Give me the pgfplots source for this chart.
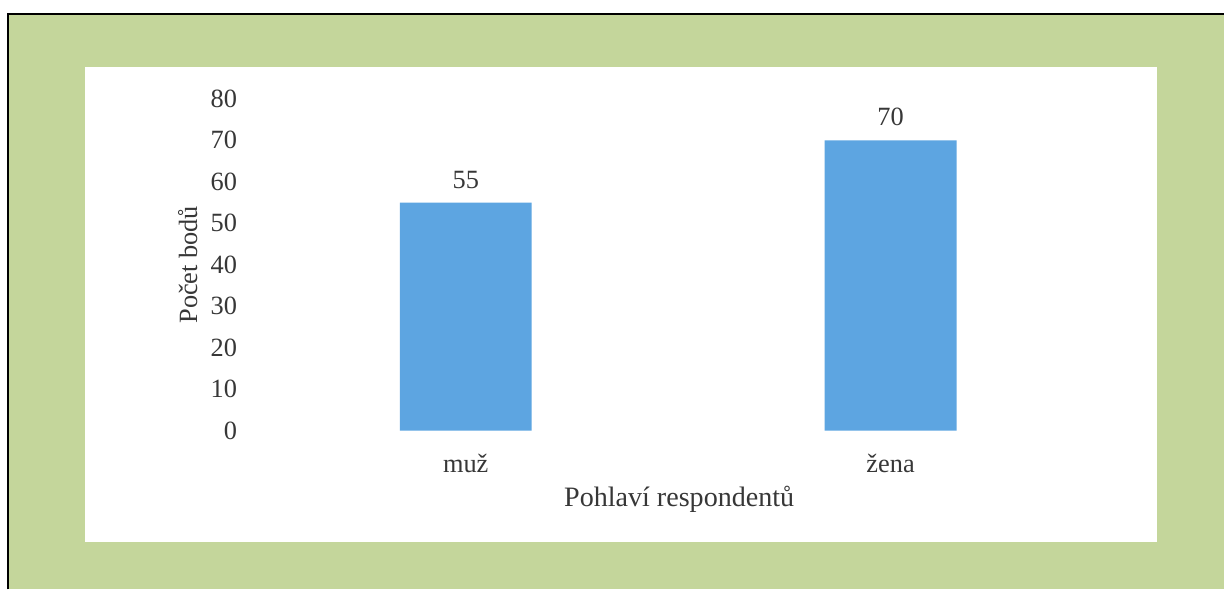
\documentclass[border=0pt]{standalone}
\usepackage{pgfplots}
\pgfplotsset{compat=1.18}
\usepackage{fontspec}
\setmainfont{Liberation Serif}
\definecolor{bggreen}{RGB}{196,214,155}
\definecolor{barblue}{RGB}{93,165,225}
\definecolor{txt}{RGB}{55,55,55}
\begin{document}
\begin{tikzpicture}
% frame: page is 12.25cm x 5.9cm (1px = 0.01cm)
\fill[white] (0,0) rectangle (12.25,5.9);
\fill[bggreen] (0.08,0) rectangle (12.25,5.76);
\draw[black, line width=0.8pt] (0.08,0) -- (0.08,5.76) -- (12.25,5.76);
\fill[white] (0.85,0.47) rectangle (11.58,5.23);
\begin{axis}[
    at={(2.60cm,1.59cm)}, anchor=south west,
    scale only axis,
    width=8.40cm, height=3.32cm,
    ymin=0, ymax=80,
    xmin=-0.485, xmax=1.49,
    ytick={0,10,...,80},
    xtick={0,1},
    xticklabels={muž,žena},
    axis line style={draw=none},
    major tick style={draw=none},
    ybar, bar width=1.32cm,
    font=\fontsize{7.5}{9}\selectfont,
    tick label style={text=txt},
    /pgf/number format/assume math mode=true,
    yticklabel style={anchor=east, inner sep=0pt, xshift=-0.22cm},
    xticklabel style={anchor=center, inner sep=0pt, yshift=-0.18cm},
    xlabel={Pohlaví respondentů},
    ylabel={Počet bodů},
    label style={text=txt},
    xlabel style={at={(axis description cs:0.5,0)}, anchor=center, yshift=-0.69cm, font=\fontsize{8}{9}\selectfont},
    ylabel style={at={(axis description cs:0,0.5)}, anchor=center, yshift=0.72cm},
    nodes near coords,
    every node near coord/.append style={anchor=center, yshift=0.23cm, text=txt},
    clip=false,
]
\addplot[fill=barblue, draw=none] coordinates {(0,55) (1,70)};
\end{axis}
\end{tikzpicture}
\end{document}
